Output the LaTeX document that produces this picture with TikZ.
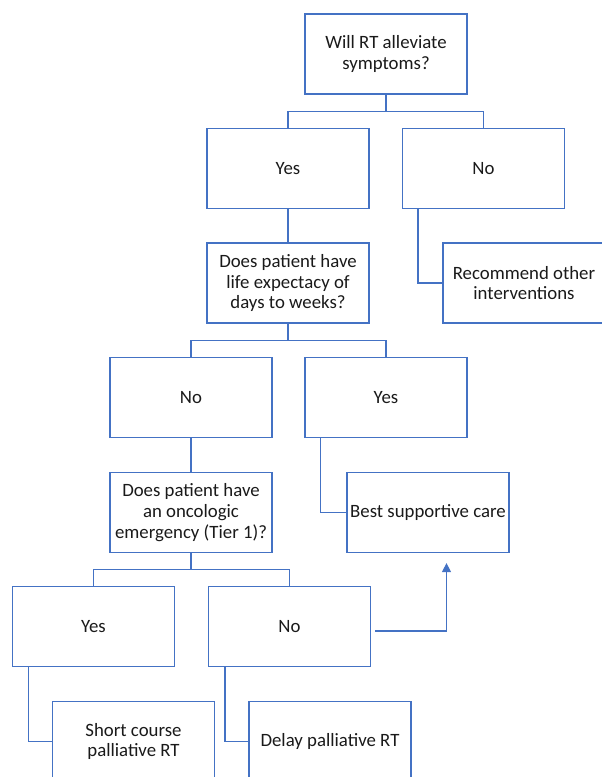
\documentclass[tikz,border=0pt]{standalone}
\usepackage{fontspec}
\setmainfont{Carlito}
\usetikzlibrary{arrows.meta}
\definecolor{officeblue}{HTML}{4472C4}
\definecolor{txt}{HTML}{1A1A1A}
\begin{document}
\begin{tikzpicture}[x=1pt,y=-1pt,
  box/.style={draw=officeblue,line width=1.2pt,fill=white,minimum width=162pt,minimum height=80pt,
    inner sep=1pt,align=center,text=txt,font=\fontsize{18.8}{20.6}\selectfont},
  link/.style={draw=officeblue,line width=1.2pt}]
\useasboundingbox (0,0) rectangle (602,777);
\node[box] (top) at (386,54) {Will RT alleviate\\symptoms?};
\node[box] (yes1) at (288,168.5) {Yes};
\node[box] (no1) at (483.5,168.5) {No};
\node[box] (q2) at (288,283) {Does patient have\\life expectacy of\\days to weeks?};
\node[box] (rec) at (524,283) {Recommend other\\interventions};
\node[box] (no2) at (191,397.5) {No};
\node[box] (yes2) at (386,397.5) {Yes};
\node[box] (q3) at (191,512.5) {Does patient have\\an oncologic\\emergency (Tier 1)?};
\node[box] (bsc) at (428,512.5) {Best supportive care};
\node[box] (yes3) at (93.5,626.5) {Yes};
\node[box] (no3) at (289.5,626.5) {No};
\node[box] (short) at (133.5,741.5) {Short course\\palliative RT};
\node[box] (delay) at (330,741.5) {Delay palliative RT};
% tree connectors
\draw[link] (top.south) -- ++(0,17) -| (yes1.north);
\draw[link] (top.south) -- ++(0,17) -| (no1.north);
\draw[link] (yes1.south) -- (q2.north);
\draw[link] (q2.south) -- ++(0,17) -| (no2.north);
\draw[link] (q2.south) -- ++(0,17) -| (yes2.north);
\draw[link] (no2.south) -- (q3.north);
\draw[link] (q3.south) -- ++(0,16) -| (yes3.north);
\draw[link] (q3.south) -- ++(0,16) -| (no3.north);
% side connectors
\draw[link] ([xshift=16pt]no1.south west) |- (rec.west);
\draw[link] ([xshift=16pt]yes2.south west) |- (bsc.west);
\draw[link] ([xshift=16.5pt]yes3.south west) |- (short.west);
\draw[link] ([xshift=17pt]no3.south west) |- (delay.west);
% arrow
\coordinate (astart) at ([xshift=4pt,yshift=-4.5pt]no3.east);
\coordinate (aend) at ([xshift=18.5pt,yshift=-10pt]bsc.south);
\draw[link,-{Triangle[length=9pt,width=9pt]}] (astart) -| (aend);
\end{tikzpicture}
\end{document}
